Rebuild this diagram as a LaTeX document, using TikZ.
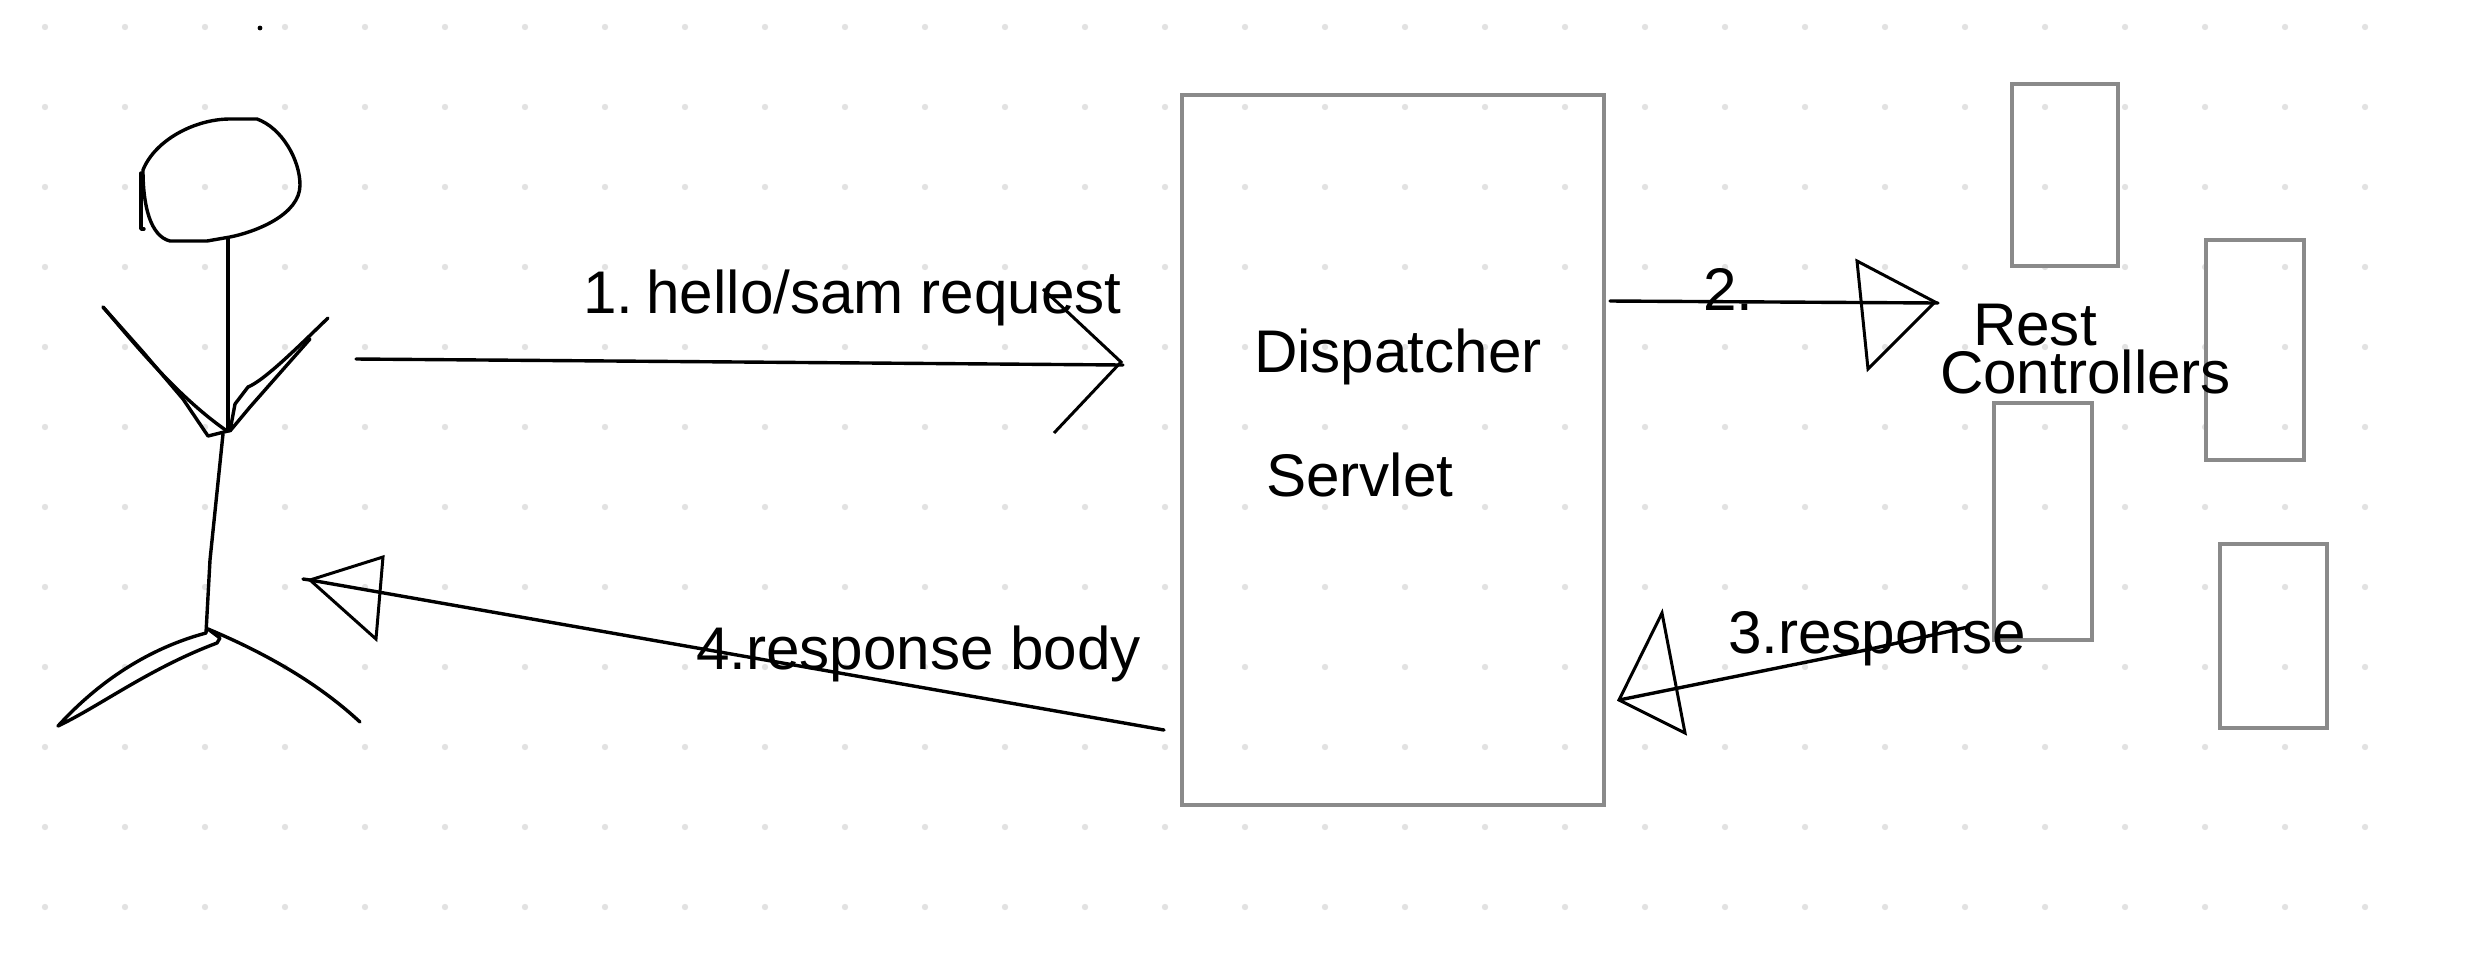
\documentclass[tikz,border=0pt]{standalone}
\usepackage{fontspec}
\setmainfont{Liberation Sans}
\usepackage{xcolor}
\usetikzlibrary{calc,positioning}
\definecolor{framex}{HTML}{8A8A8A}
\definecolor{dotx}{HTML}{E2E2E2}
\definecolor{inkx}{HTML}{000000}
\tikzset{
  box/.style={draw=framex,line width=2pt,inner sep=0pt,outer sep=0pt},
  txt/.style={anchor=base west,inner sep=0pt,outer sep=0pt,text=black,font=\fontsize{30.1}{30}\selectfont},
  pen/.style={draw=inkx,line width=1.7pt,line cap=round,line join=round},
  tip/.style={draw=inkx,line width=1.5pt,line join=miter}
}
\begin{document}
\begin{tikzpicture}[x=0.5pt,y=-0.5pt]
\useasboundingbox (0,0) rectangle (2476,960);
\foreach \i in {0,...,29}{\foreach \j in {0,...,11}{\fill[dotx] ({45+80*\i},{27+80*\j}) circle (1.6pt);}}
\fill[inkx] (260,28) circle (1.2pt);
% boxes
\foreach \n/\xa/\ya/\w/\h in {disp/1182/95/422/710,ctlA/2012/84/106/182,ctlB/2206/240/98/220,ctlC/1994/403/98/237,ctlD/2220/544/107/184}{
  \node[box,minimum width=\w*0.5pt,minimum height=\h*0.5pt] (\n) at ({\xa+\w/2},{\ya+\h/2}) {};
}
% person
\draw[pen] (143,170) .. controls (155,140) and (195,119) .. (230,119) -- (257,119) .. controls (282,128) and (300,160) .. (300,185) .. controls (300,215) and (255,232) .. (230,237) -- (207,241) -- (170,241) .. controls (150,236) and (143,205) .. (143,170) -- cycle;
\draw[pen] (141,173) -- (141,229) -- (144,229);
\coordinate (neck) at (228,431);
\draw[pen] (228,239) -- (neck);
\draw[pen] (103,307) .. controls (130,338) and (175,395) .. (227,431);
\draw[pen] (103,307) -- (143,352) -- (183,399) -- (208,436) -- (neck);
\draw[pen] (328,318) .. controls (300,345) and (265,380) .. (248,387) -- (235,404) -- (230,431);
\draw[pen] (230,431) -- (250,407) -- (287,365) -- (310,339);
\coordinate (hip) at (206,633);
\draw[pen] (223,434) -- (210,560) -- (hip);
\draw[pen] (hip) .. controls (150,648) and (100,680) .. (58,726) .. controls (100,706) and (150,668) .. (217,643) -- (220,638) -- (208,629);
\draw[pen] (208,629) .. controls (270,655) and (320,685) .. (360,722);
% arrows
\coordinate (reqA) at (356,359);
\coordinate (reqB) at (1123,365);
\draw[pen] (reqA) -- (reqB);
\draw[tip] (1043,289) -- (1121,362) -- (1054,433);
\coordinate (dspA) at (1610,301);
\coordinate (dspB) at (1938,303);
\draw[pen] (dspA) -- (dspB);
\draw[tip] (1857,261) -- (1935,302) -- (1868,369) -- cycle;
\coordinate (resA) at (1968,627);
\coordinate (resB) at (1619,700);
\draw[pen] (resA) -- (1866,650) -- (resB);
\draw[tip] (1662,613) -- (resB) -- (1685,733) -- cycle;
\coordinate (bodA) at (1164,730);
\coordinate (bodB) at (310,580);
\draw[pen] (bodA) -- (bodB) -- (303,579);
\draw[tip] (383,557) -- (bodB) -- (376,639) -- cycle;
% labels
\node[txt] (lblreq) at (583,313) {1.\hspace{0.22em}hello/sam request};
\node[txt] (lbldsp) at (1703,310) {2.};
\node[txt] (lblres) at (1728,653) {3.response};
\node[txt] (lblbod) at (696,669) {4.response body};
\node[txt] (lblDa) at (1254,372) {Dispatcher};
\node[txt] (lblDb) at (1266,496) {Servlet};
\node[txt] (lblRa) at (1973,345) {Rest};
\node[txt] (lblRb) at (1940,393) {Controllers};
\end{tikzpicture}
\end{document}
